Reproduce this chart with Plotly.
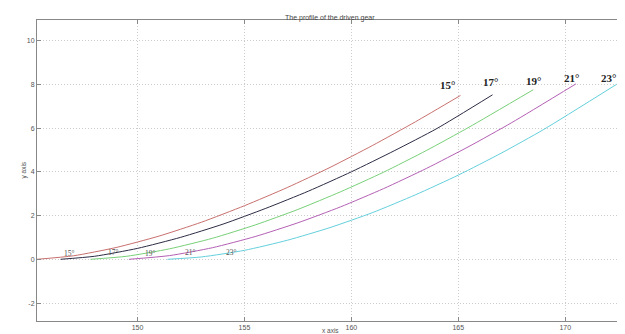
import plotly.graph_objects as go

# Read-off profile points (x, y) for each pressure angle
x15 = [145.3, 147.0, 149.0, 151.0, 153.0, 155.0, 157.0, 159.0, 161.0, 163.0, 165.1]
y15 = [0.0, 0.16, 0.54, 1.06, 1.70, 2.45, 3.28, 4.20, 5.21, 6.29, 7.49]

x17 = [146.4, 148.0, 150.0, 152.0, 154.0, 156.0, 158.0, 160.0, 162.0, 164.0, 166.6]
y17 = [0.0, 0.14, 0.50, 1.00, 1.61, 2.33, 3.12, 4.00, 4.96, 5.98, 7.52]

x19 = [147.8, 149.5, 151.5, 153.5, 155.5, 157.5, 159.5, 161.5, 163.5, 165.5, 168.5]
y19 = [0.0, 0.14, 0.48, 0.96, 1.57, 2.28, 3.09, 3.98, 4.97, 6.04, 7.75]

x21 = [149.6, 151.5, 153.5, 155.5, 157.5, 159.5, 161.5, 163.5, 165.5, 167.5, 170.5]
y21 = [0.0, 0.17, 0.53, 1.04, 1.67, 2.40, 3.23, 4.15, 5.16, 6.25, 8.02]

x23 = [151.4, 153.0, 155.0, 157.0, 159.0, 161.0, 163.0, 165.0, 167.0, 169.0, 172.4]
y23 = [0.0, 0.11, 0.41, 0.87, 1.45, 2.14, 2.95, 3.85, 4.85, 5.94, 8.0]

labels = ["15°", "17°", "19°", "21°", "23°"]
end_label_x = [164.5, 166.5, 168.5, 170.3, 172.0]
end_label_y = [7.95, 8.1, 8.15, 8.3, 8.3]
start_label_x = [146.8, 148.9, 150.6, 152.5, 154.4]
start_label_y = [0.28, 0.33, 0.28, 0.33, 0.33]

x_ticks = [150, 155, 160, 165, 170]
y_ticks = [-2, 0, 2, 4, 6, 8, 10]

colors = ["#c8706e", "#2c2c44", "#78d078", "#b460b4", "#64d0dc"]
series = [(x15, y15), (x17, y17), (x19, y19), (x21, y21), (x23, y23)]

fig = go.Figure()
for (xs, ys), c, lab in zip(series, colors, labels):
    fig.add_trace(go.Scatter(x=xs, y=ys, mode="lines", name=lab,
                             line=dict(color=c, width=1, shape="spline", smoothing=0.6),
                             showlegend=False))

for lab, xx, yy in zip(labels, end_label_x, end_label_y):
    fig.add_annotation(x=xx, y=yy, text="<b>" + lab + "</b>", showarrow=False,
                       font=dict(family="Liberation Serif", size=11, color="#222222"))
for lab, xx, yy in zip(labels, start_label_x, start_label_y):
    fig.add_annotation(x=xx, y=yy, text=lab, showarrow=False,
                       font=dict(family="Liberation Serif", size=7.5, color="#555555"))

fig.add_annotation(xref="paper", yref="paper", x=0.5, y=1, yshift=8, text="The profile of the driven gear",
                   showarrow=False, font=dict(family="Liberation Sans", size=7, color="#444444"))
fig.add_annotation(xref="paper", yref="paper", x=0.5, y=0, yshift=-15, text="x axis",
                   showarrow=False, font=dict(family="Liberation Sans", size=6.5, color="#555555"))
fig.add_annotation(xref="paper", yref="paper", x=0, y=0.5, xshift=-20, text="y axis", textangle=-90,
                   showarrow=False, font=dict(family="Liberation Sans", size=6.5, color="#555555"))

axis_common = dict(showline=True, linecolor="#888888", linewidth=1, mirror="ticks",
                   ticks="inside", ticklen=4, tickcolor="#888888",
                   showgrid=True, gridcolor="#cccccc", gridwidth=1, griddash="1px,2px",
                   zeroline=False, tickfont=dict(family="Liberation Sans", size=7, color="#555555"))

fig.update_xaxes(range=[145.3, 172.7], tickvals=x_ticks, ticktext=[str(v) for v in x_ticks], **axis_common)
fig.update_yaxes(range=[-2.82, 10.94], tickvals=y_ticks, ticktext=[str(v) for v in y_ticks], **axis_common)

# page body has an 8px margin, so the figure is sized/offset to fit the window
fig.update_layout(width=617, height=326, margin=dict(l=29, r=2, t=12, b=13),
                  paper_bgcolor="white", plot_bgcolor="white")

fig.write_html("out.html")
